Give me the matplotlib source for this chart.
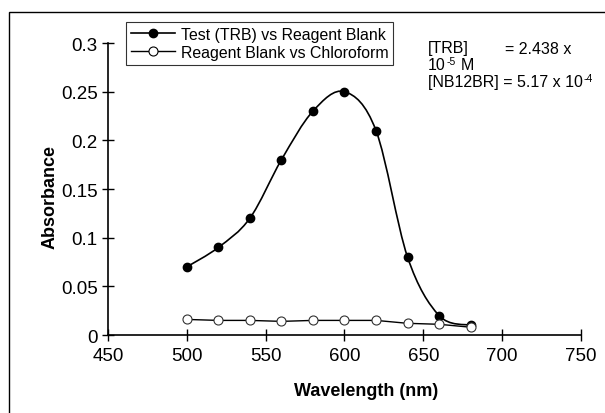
import numpy as np
import matplotlib
matplotlib.use("Agg")
import matplotlib.pyplot as plt
from matplotlib.path import Path
from matplotlib.patches import PathPatch, Rectangle
from matplotlib.lines import Line2D

plt.rcParams['font.family'] = ['Liberation Sans', 'DejaVu Sans']

# datos
wavelength = [500, 520, 540, 560, 580, 600, 620, 640, 660, 680]
test_trb = [0.07, 0.09, 0.12, 0.18, 0.23, 0.25, 0.21, 0.08, 0.02, 0.01]
blank = [0.016, 0.015, 0.015, 0.014, 0.015, 0.015, 0.015, 0.012, 0.011, 0.008]
xticks = [450, 500, 550, 600, 650, 700, 750]
yticks = [0, 0.05, 0.1, 0.15, 0.2, 0.25, 0.3]
ytick_labels = ["0", "0.05", "0.1", "0.15", "0.2", "0.25", "0.3"]


def smooth_path(x, y):
    # curva suavizada tipo Catmull-Rom con segmentos Bezier
    x = np.asarray(x, float)
    y = np.asarray(y, float)
    verts = [(x[0], y[0])]
    codes = [Path.MOVETO]
    n = len(x)
    for i in range(n - 1):
        x0, y0 = (x[i - 1], y[i - 1]) if i > 0 else (x[i], y[i])
        x3, y3 = (x[i + 2], y[i + 2]) if i + 2 < n else (x[i + 1], y[i + 1])
        c1 = (x[i] + (x[i + 1] - x0) / 6, y[i] + (y[i + 1] - y0) / 6)
        c2 = (x[i + 1] - (x3 - x[i]) / 6, y[i + 1] - (y3 - y[i]) / 6)
        verts += [c1, c2, (x[i + 1], y[i + 1])]
        codes += [Path.CURVE4] * 3
    return Path(verts, codes)


fig = plt.figure(figsize=(6.05, 4.14), dpi=100)
ax = fig.add_axes([0.1785, 0.1884, 0.7818, 0.7053])

# marco exterior
fig.patches.append(Rectangle((9 / 605, -0.1), 1.2, 1 - 13 / 414 + 0.1,
                             transform=fig.transFigure, fill=False,
                             edgecolor='black', linewidth=1.0))

ax.add_patch(PathPatch(smooth_path(wavelength, test_trb), fill=False,
                       edgecolor='black', linewidth=1.2))
ax.plot(wavelength, test_trb, linestyle='none', marker='o', markersize=6,
        color='black')
ax.plot(wavelength, blank, color='black', linewidth=1.0, marker='o',
        markersize=6.5, markerfacecolor='white', markeredgecolor='#333333',
        markeredgewidth=0.8)

ax.set_xlim(450, 750)
ax.set_ylim(0, 0.3)
ax.set_xticks(xticks)
ax.set_yticks(yticks)
ax.set_yticklabels(ytick_labels)
ax.tick_params(direction='inout', length=9, width=1.0, labelsize=13.5,
               colors='black')
ax.tick_params(axis='x', pad=4)
ax.tick_params(axis='y', pad=3)
for s in ['top', 'right']:
    ax.spines[s].set_visible(False)
for s in ['left', 'bottom']:
    ax.spines[s].set_linewidth(1.2)

fig.text(366 / 605, 1 - 392 / 414, "Wavelength (nm)", fontsize=13,
         fontweight='bold', ha='center', va='center')
fig.text(50 / 605, 1 - 197 / 414, "Absorbance", fontsize=13,
         fontweight='bold', ha='center', va='center', rotation=90)

handles = [
    Line2D([], [], color='black', linewidth=1.2, marker='o', markersize=6),
    Line2D([], [], color='black', linewidth=1.0, marker='o', markersize=6.5,
           markerfacecolor='white', markeredgewidth=0.8),
]
leg = fig.legend(handles, ["Test (TRB) vs Reagent Blank",
                           "Reagent Blank vs Chloroform"],
                 loc='upper left', bbox_to_anchor=(126 / 605, 1 - 23 / 414),
                 fontsize=11.4, frameon=True, fancybox=False, handlelength=2.8,
                 handletextpad=0.35, borderpad=0.3, labelspacing=0.2,
                 borderaxespad=0)
leg.get_frame().set_edgecolor('black')
leg.get_frame().set_linewidth(0.8)

# anotacion de concentraciones, exponentes como textos pequenos aparte
fs = 11.5
fig.text(428 / 605, 1 - 49 / 414, "[TRB]", fontsize=fs, va='center')
fig.text(505 / 605, 1 - 49 / 414, "= 2.438 x", fontsize=fs, va='center')
t1 = fig.text(428 / 605, 1 - 66 / 414, "10", fontsize=fs, va='center')
t2 = fig.text(428 / 605, 1 - 83 / 414, "[NB12BR] = 5.17 x 10", fontsize=fs,
              va='center')
fig.canvas.draw()
r = fig.canvas.get_renderer()
e1 = t1.get_window_extent(r)
e2 = t2.get_window_extent(r)
fig.text((e1.x1 + 0.5) / 605, 1 - 62 / 414, "-5", fontsize=7.5, va='center')
fig.text((e1.x1 + 15) / 605, 1 - 66 / 414, "M", fontsize=fs, va='center')
fig.text((e2.x1 + 0.5) / 605, 1 - 79 / 414, "-4", fontsize=7.5, va='center')

fig.savefig("out.png", dpi=100)
